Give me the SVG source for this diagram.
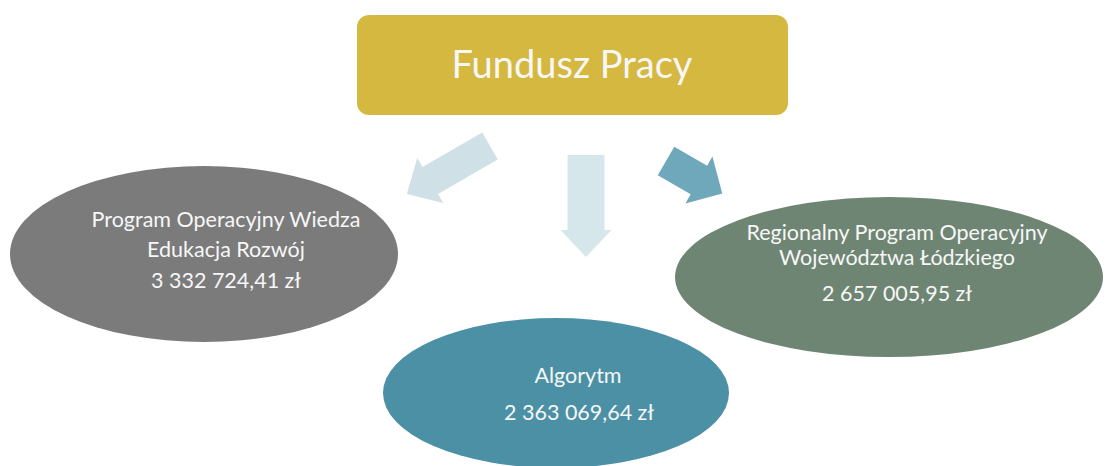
<svg xmlns="http://www.w3.org/2000/svg" width="1107" height="466" viewBox="0 0 1107 466">
<style>
.t{font-family:Lato,"Open Sans","Liberation Sans",sans-serif;fill:#f7f7f7;text-anchor:middle}
.n{font-size:21.5px}
.title{font-size:38px}
</style>
<rect x="0" y="0" width="1107" height="466" fill="#ffffff"/>
<g id="connectors">
<polygon points="0,-15.5 69,-15.5 69,-26 96,0 69,26 69,15.5 0,15.5" fill="#cfe1e6" transform="translate(490,146) rotate(150)"/>
<polygon points="0,-18.5 75,-18.5 75,-25.5 102,0 75,25.5 75,18.5 0,18.5" fill="#d6e7eb" transform="translate(586,155) rotate(90)"/>
<polygon points="0,-16.5 38,-16.5 38,-27 65,0 38,27 38,16.5 0,16.5" fill="#6fa8ba" transform="translate(666,161) rotate(30)"/>
</g>
<g id="fundusz">
<rect x="357" y="15" width="431" height="100" rx="12" fill="#d5b83f"/>
<text class="t title" x="572" y="78">Fundusz Pracy</text>
</g>
<g id="powr">
<ellipse cx="204" cy="254" rx="194" ry="88" fill="#7b7b7b"/>
<text class="t n" x="226" y="227">Program Operacyjny Wiedza</text>
<text class="t n" x="226" y="257">Edukacja Rozwój</text>
<text class="t n" x="226" y="288">3 332 724,41 zł</text>
</g>
<g id="rpo">
<ellipse cx="889" cy="277" rx="214" ry="80" fill="#6f8574"/>
<text class="t n" x="897" y="240">Regionalny Program Operacyjny</text>
<text class="t n" x="897" y="265">Województwa Łódzkiego</text>
<text class="t n" x="897" y="301">2 657 005,95 zł</text>
</g>
<g id="algorytm">
<ellipse cx="556" cy="393" rx="173" ry="75" fill="#4b90a5"/>
<text class="t n" x="578" y="383">Algorytm</text>
<text class="t n" x="579" y="420">2 363 069,64 zł</text>
</g>
</svg>
